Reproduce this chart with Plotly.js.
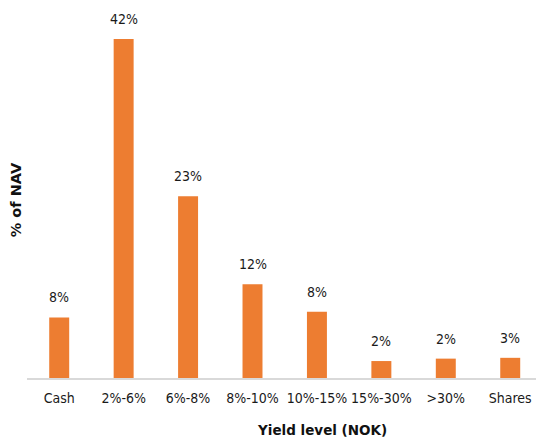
<!DOCTYPE html>
<html>
<head>
<meta charset="utf-8">
<script src="https://cdn.plot.ly/plotly-3.0.1.min.js"></script>
<style>html,body{margin:0;padding:0;background:#fff;overflow:hidden;}</style>
</head>
<body>
<div id="chart" style="width:536px;height:442px;"></div>
<script>
const categories = ["Cash", "2%-6%", "6%-8%", "8%-10%", "10%-15%", "15%-30%", ">30%", "Shares"];
const values = [7.5, 42, 22.5, 11.6, 8.2, 2.1, 2.4, 2.5];
const labels = ["8%", "42%", "23%", "12%", "8%", "2%", "2%", "3%"];
const xTitle = "Yield level (NOK)";
const yTitle = "% of NAV";

const FONT = "'DejaVu Sans Condensed', 'DejaVu Sans', sans-serif";

const annotations = categories.map((c, i) => ({
  x: c, y: values[i], xref: "x", yref: "y",
  text: labels[i], showarrow: false, yanchor: "bottom", yshift: 10,
  font: {family: FONT, size: 14, color: "#1a1a1a"}
}));
annotations.push({
  xref: "paper", yref: "paper", x: 0.58, y: 0, yanchor: "middle", yshift: -52,
  text: "<b>" + xTitle + "</b>", showarrow: false,
  font: {family: "DejaVu Sans", size: 13.5, color: "#111"}
});

const trace = {
  type: "bar", x: categories, y: values,
  marker: {color: "#ED7D31"},
  hoverinfo: "skip"
};

const layout = {
  width: 536, height: 442,
  margin: {l: 27, r: 0, t: 22, b: 64},
  paper_bgcolor: "#fff", plot_bgcolor: "#fff",
  bargap: 0.69,
  showlegend: false,
  font: {family: FONT, size: 14, color: "#1a1a1a"},
  xaxis: {
    type: "category", range: [-0.5, 7.4],
    showline: true, linecolor: "#D9D9D9", linewidth: 1.5,
    ticks: "", showgrid: false, zeroline: false, ticklabelstandoff: 7,
    tickfont: {family: FONT, size: 14, color: "#1a1a1a"}
  },
  yaxis: {
    range: [0, 44.1], showticklabels: false, showgrid: false,
    zeroline: false, showline: false, ticks: "",
    title: {text: "<b>" + yTitle + "</b>", standoff: 0,
            font: {family: "DejaVu Sans", size: 14.5, color: "#111"}}
  },
  annotations: annotations
};

Plotly.newPlot("chart", [trace], layout, {displayModeBar: false, staticPlot: true});
</script>
</body>
</html>
